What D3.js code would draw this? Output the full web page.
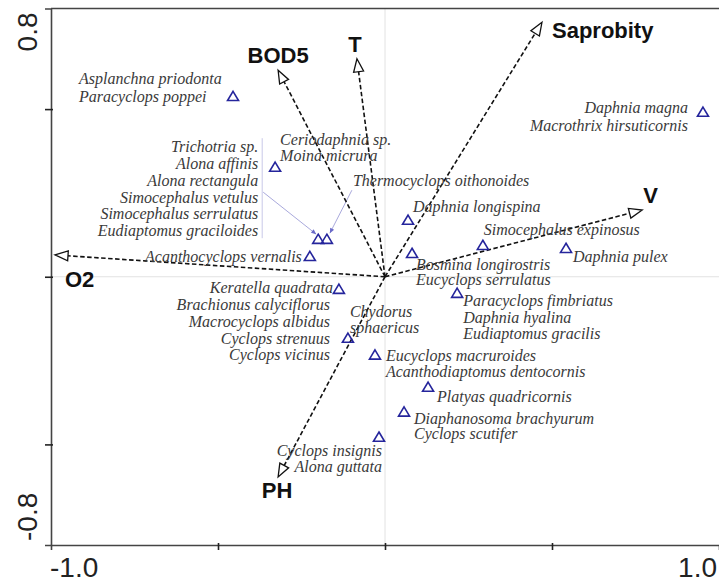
<!DOCTYPE html>
<html><head><meta charset="utf-8">
<script src="https://cdn.jsdelivr.net/npm/d3@7"></script>
<style>body{margin:0;background:#fff}svg{display:block}</style>
</head><body>
<svg id="c" width="719" height="582"></svg>
<script>
// ---------- DATA ----------
const envNames = ["Saprobity", "T", "BOD5", "O2", "V", "PH"];
const envX = [0.47, -0.084, -0.32, -0.988, 0.77, -0.32];
const envY = [0.759, 0.65, 0.616, 0.065, 0.199, -0.597];

const siteX = [-0.455, 0.952, -0.329, -0.2, -0.174, -0.225, -0.138, -0.111, 0.069, 0.081, 0.293, 0.542, 0.216, -0.03, 0.129, 0.057, -0.018];
const siteY = [0.538, 0.491, 0.327, 0.112, 0.112, 0.061, -0.037, -0.183, 0.169, 0.07, 0.094, 0.085, -0.049, -0.233, -0.329, -0.403, -0.478];

const speciesLabels = [
  ["Asplanchna priodonta", "Paracyclops poppei"],
  ["Daphnia magna", "Macrothrix hirsuticornis"],
  ["Ceriodaphnia sp.", "Moina micrura"],
  ["Trichotria sp.", "Alona affinis", "Alona rectangula", "Simocephalus vetulus", "Simocephalus serrulatus", "Eudiaptomus graciloides"],
  ["Thermocyclops oithonoides"],
  ["Acanthocyclops vernalis"],
  ["Keratella quadrata"],
  ["Brachionus calyciflorus", "Macrocyclops albidus", "Cyclops strenuus", "Cyclops vicinus"],
  ["Chydorus", "sphaericus"],
  ["Daphnia longispina"],
  ["Bosmina longirostris", "Eucyclops serrulatus"],
  ["Simocephalus expinosus"],
  ["Daphnia pulex"],
  ["Paracyclops fimbriatus", "Daphnia hyalina", "Eudiaptomus gracilis"],
  ["Eucyclops macruroides", "Acanthodiaptomus dentocornis"],
  ["Platyas quadricornis"],
  ["Diaphanosoma brachyurum", "Cyclops scutifer"],
  ["Cyclops insignis", "Alona guttata"]
];

const xTickValues = [-0.5, 0, 0.5];
const yTickValues = [-0.5, 0, 0.5];
const xDomain = [-1.0, 1.0];
const yDomain = [-0.8, 0.8];
const xEndLabels = ["-1.0", "1.0"];
const yEndLabels = ["-0.8", "0.8"];

// ---------- LAYOUT (pixel offsets, not data) ----------
const labelLayout = [
  {p: 0, a: "start", dx: -154, dy: -12, gap: 17.5},
  {p: 1, a: "end", dx: -15, dy: 1, gap: 18},
  {p: 2, a: "start", dx: 5, dy: -22, gap: 16},
  {p: 3, a: "end", dx: -60, dy: -87, gap: 16.8},
  {p: 4, a: "start", dx: 26, dy: -53, gap: 16},
  {p: 5, a: "end", dx: -8, dy: 6, gap: 16},
  {p: 6, a: "end", dx: -6, dy: 4, gap: 16},
  {p: 7, a: "end", dx: -18, dy: -28, gap: 16.7},
  {p: 7, a: "start", dx: 2, dy: -21, gap: 15.5},
  {p: 8, a: "start", dx: 5, dy: -8, gap: 16},
  {p: 9, a: "start", dx: 4, dy: 16.5, gap: 15.5},
  {p: 10, a: "start", dx: 1, dy: -10, gap: 16},
  {p: 11, a: "start", dx: 7, dy: 14, gap: 16},
  {p: 12, a: "start", dx: 6, dy: 13, gap: 16.5},
  {p: 13, a: "start", dx: 11, dy: 6, gap: 16},
  {p: 14, a: "start", dx: 9, dy: 15, gap: 16},
  {p: 15, a: "start", dx: 10, dy: 12, gap: 15.5},
  {p: 16, a: "end", dx: 3, dy: 19, gap: 16}
];
const envLabelLayout = [
  {a: "start", dx: 10, dy: 16},
  {a: "middle", dx: -2, dy: -7},
  {a: "middle", dx: 0, dy: -7},
  {a: "start", dx: 10, dy: 32},
  {a: "start", dx: 1, dy: -7},
  {a: "middle", dx: -1, dy: 21}
];

// ---------- DRAW ----------
const svg = d3.select("#c");
const mLeft = 51, mRight = 719, mTop = 8.5, mBottom = 545;
const x = d3.scaleLinear().domain(xDomain).range([mLeft, mRight]);
const y = d3.scaleLinear().domain(yDomain).range([mBottom, mTop]);

// zero lines
svg.append("line").attr("x1", x(0)).attr("x2", x(0)).attr("y1", mTop).attr("y2", mBottom)
  .attr("stroke", "#e2e2e2").attr("stroke-width", 1);
svg.append("line").attr("x1", mLeft).attr("x2", mRight).attr("y1", y(0)).attr("y2", y(0))
  .attr("stroke", "#e2e2e2").attr("stroke-width", 1);

// axes
const axCol = "#444";
const gx = svg.append("g").attr("transform", `translate(0,${mBottom})`)
  .call(d3.axisBottom(x).tickValues(xTickValues).tickSize(5).tickFormat(""));
const gy = svg.append("g").attr("transform", `translate(${mLeft},0)`)
  .call(d3.axisLeft(y).tickValues(yTickValues).tickSize(6).tickFormat(""));
[gx, gy].forEach(g => {
  g.select(".domain").attr("stroke", axCol).attr("stroke-width", 1.6);
  g.selectAll(".tick line").attr("stroke", "#222").attr("stroke-width", 1.6);
});
gx.selectAll(".tick line").attr("y1", -2);
gy.selectAll(".tick line").attr("x1", 2);
// top frame line
svg.append("line").attr("x1", mLeft).attr("x2", mRight).attr("y1", mTop).attr("y2", mTop)
  .attr("stroke", axCol).attr("stroke-width", 1.6);

// end labels
const tickFont = "'Liberation Sans', Arial, sans-serif";
svg.append("text").attr("x", x(xDomain[0]) - 1).attr("y", 577).attr("text-anchor", "start")
  .attr("font-family", tickFont).attr("font-size", 28).attr("fill", "#222").text(xEndLabels[0]);
svg.append("text").attr("x", x(xDomain[1]) - 2).attr("y", 577).attr("text-anchor", "end")
  .attr("font-family", tickFont).attr("font-size", 28).attr("fill", "#222").text(xEndLabels[1]);
svg.append("text").attr("transform", `translate(37,${y(yDomain[0]) - 4}) rotate(-90)`).attr("text-anchor", "start")
  .attr("font-family", tickFont).attr("font-size", 28).attr("fill", "#222").text(yEndLabels[0]);
svg.append("text").attr("transform", `translate(37,${y(yDomain[1]) + 4}) rotate(-90)`).attr("text-anchor", "end")
  .attr("font-family", tickFont).attr("font-size", 28).attr("fill", "#222").text(yEndLabels[1]);

// leader lines (light)
const leadCol = "#a9a9dc";
const p3 = [x(siteX[3]), y(siteY[3])], p4 = [x(siteX[4]), y(siteY[4])];
svg.append("line").attr("x1", p3[0] - 56).attr("x2", p3[0] - 56).attr("y1", p3[1] - 101).attr("y2", p3[1] - 1)
  .attr("stroke", "#c8c8e8").attr("stroke-width", 1);
function leader(x1, y1, x2, y2) {
  svg.append("line").attr("x1", x1).attr("y1", y1).attr("x2", x2).attr("y2", y2)
    .attr("stroke", leadCol).attr("stroke-width", 1);
  const ang = Math.atan2(y2 - y1, x2 - x1), L = 5, w = 2.2;
  const bx = x2 - L * Math.cos(ang), by = y2 - L * Math.sin(ang);
  const nx = -Math.sin(ang), ny = Math.cos(ang);
  svg.append("path").attr("d", `M${x2},${y2}L${bx + w * nx},${by + w * ny}L${bx - w * nx},${by - w * ny}Z`)
    .attr("fill", "#6a6ac8");
}
leader(p3[0] - 55, p3[1] - 47, p3[0] - 2, p3[1] - 5);
leader(p4[0] + 25, p4[1] - 49, p4[0] + 3, p4[1] - 6);

// environmental vectors
const ox = x(0), oy = y(0);
envNames.forEach((n, i) => {
  const tx = x(envX[i]), ty = y(envY[i]);
  const dx = tx - ox, dy = ty - oy, len = Math.hypot(dx, dy);
  const ux = dx / len, uy = dy / len, nx = -uy, ny = ux;
  const L = 13, w = 5;
  const bx = tx - L * ux, by = ty - L * uy;
  svg.append("line").attr("x1", ox).attr("y1", oy).attr("x2", bx).attr("y2", by)
    .attr("stroke", "#111").attr("stroke-width", 1.6).attr("stroke-dasharray", "4.5,2.5");
  svg.append("path").attr("d", `M${tx},${ty}L${bx + w * nx},${by + w * ny}L${bx - w * nx},${by - w * ny}Z`)
    .attr("fill", "#fff").attr("stroke", "#111").attr("stroke-width", 1.3).attr("stroke-linejoin", "miter");
  const lay = envLabelLayout[i];
  svg.append("text").attr("x", tx + lay.dx).attr("y", ty + lay.dy).attr("text-anchor", lay.a)
    .attr("font-family", tickFont).attr("font-weight", "bold").attr("font-size", 22).attr("fill", "#111").text(n);
});

// species labels
const labFont = "'Liberation Serif', 'Times New Roman', serif";
labelLayout.forEach((lay, k) => {
  const px = x(siteX[lay.p]), py = y(siteY[lay.p]);
  const t = svg.append("text").attr("text-anchor", lay.a)
    .attr("font-family", labFont).attr("font-style", "italic").attr("font-size", 16).attr("fill", "#3a3a3a");
  speciesLabels[k].forEach((s, j) => {
    t.append("tspan").attr("x", px + lay.dx).attr("y", py + lay.dy + j * lay.gap).text(s);
  });
});

// species triangles
svg.append("g").selectAll("path").data(siteX).join("path")
  .attr("transform", (d, i) => `translate(${x(d)},${y(siteY[i])})`)
  .attr("d", "M0,-5L5.5,4.2L-5.5,4.2Z")
  .attr("fill", "none").attr("stroke", "#25259c").attr("stroke-width", 1.6);
</script>
</body></html>
